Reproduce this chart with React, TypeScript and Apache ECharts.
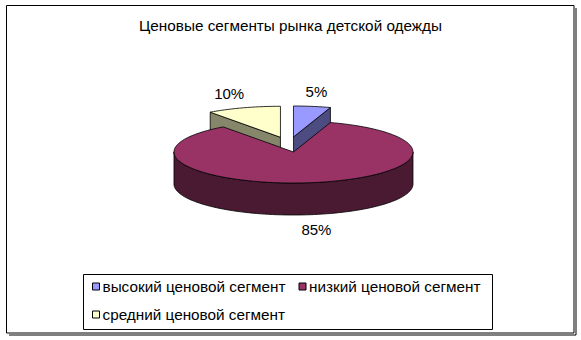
import React, { useEffect, useRef } from "react";
import * as echarts from "echarts";

const TITLE = "Ценовые сегменты рынка детской одежды";
const categories = ["высокий ценовой сегмент", "низкий ценовой сегмент", "средний ценовой сегмент"];
const values = [5, 85, 10];
const pctLabels = ["5%", "85%", "10%"];
const topColors = ["#9999FF", "#993366", "#FFFFCC"];
const sideColors = ["#4C4C80", "#4A1A33", "#86866A"];

// layout (pixels)
const CX = 289.1;
const CY = 144.5;
const RX = 119.5;
const RY = 31;
const DEPTH = 32;
const EXPLODE_X = 28;
const EXPLODE_Y = 7.6;
const FF = "'Liberation Sans', Arial, sans-serif";
const FONT = "15px " + FF;

const rad = (d: number) => (d * Math.PI) / 180;

function arc(ox: number, oy: number, a0: number, a1: number, dy: number) {
  const pts: number[][] = [];
  const n = Math.max(2, Math.ceil(Math.abs(a1 - a0) / 2));
  for (let k = 0; k <= n; k++) {
    const a = a0 + ((a1 - a0) * k) / n;
    pts.push([ox + RX * Math.sin(rad(a)), oy - RY * Math.cos(rad(a)) + dy]);
  }
  return pts;
}

function makeRenderItem(i: number) {
  return function (_params: any, api: any) {
    const total = values.reduce((s, v) => s + v, 0);
    let before = 0;
    for (let k = 0; k < i; k++) before += values[k];
    const v = api.value(0) as number;
    const start = (before / total) * 360;
    const end = start + (v / total) * 360;
    const mid = (start + end) / 2;
    const ox = CX + Math.sin(rad(mid)) * EXPLODE_X;
    const oy = CY - Math.cos(rad(mid)) * EXPLODE_Y;
    const stroke = "#000";
    const lw = 0.8;
    const children: any[] = [];

    const wall = (a: number) => {
      const p = [ox + RX * Math.sin(rad(a)), oy - RY * Math.cos(rad(a))];
      return [
        [ox, oy],
        p,
        [p[0], p[1] + DEPTH],
        [ox, oy + DEPTH],
      ];
    };
    if (Math.sin(rad(start)) < -1e-6) {
      children.push({
        type: "polygon",
        z2: 10,
        shape: { points: wall(start) },
        style: { fill: sideColors[i], stroke, lineWidth: lw },
      });
    }
    if (Math.sin(rad(end)) > 1e-6) {
      children.push({
        type: "polygon",
        z2: 10,
        shape: { points: wall(end) },
        style: { fill: sideColors[i], stroke, lineWidth: lw },
      });
    }
    const s = Math.max(start, 90);
    const e = Math.min(end, 270);
    if (s < e) {
      const pts = arc(ox, oy, s, e, 0).concat(arc(ox, oy, e, s, DEPTH));
      children.push({
        type: "polygon",
        z2: 20,
        shape: { points: pts },
        style: { fill: sideColors[i], stroke, lineWidth: lw },
      });
    }
    children.push({
      type: "polygon",
      z2: 30,
      shape: { points: [[ox, oy]].concat(arc(ox, oy, start, end, 0)) },
      style: { fill: topColors[i], stroke, lineWidth: lw },
    });
    const front = Math.cos(rad(mid)) < 0;
    const ex = ox + RX * Math.sin(rad(mid));
    const ey = oy - RY * Math.cos(rad(mid)) + (front ? DEPTH : 0);
    children.push({
      type: "text",
      z2: 40,
      x: ex + Math.sin(rad(mid)) * 40 - 2,
      y: ey - Math.cos(rad(mid)) * 15,
      style: {
        text: pctLabels[i],
        fill: "#000",
        font: FONT,
        align: "center",
        verticalAlign: "middle",
        textAlign: "center",
        textVerticalAlign: "middle",
      },
    });
    return { type: "group", children };
  };
}

export default function App() {
  const ref = useRef<HTMLDivElement>(null);
  useEffect(() => {
    if (!ref.current) return;
    const chart = echarts.init(ref.current, undefined, { renderer: "svg" });
    chart.setOption({
      animation: false,
      backgroundColor: "#fff",
      title: {
        text: TITLE,
        left: "center",
        top: 13,
        textStyle: {
          fontSize: 15.3,
          fontWeight: "normal",
          fontFamily: FF,
          color: "#000",
        },
      },
      graphic: [
        {
          type: "polyline",
          z: 0,
          shape: { points: [[576, 8], [576, 335], [9, 335]] },
          style: { stroke: "#000", lineWidth: 1, fill: null },
        },
        {
          type: "rect",
          z: 0,
          shape: { x: 6.5, y: 5.5, width: 567.5, height: 327.5 },
          style: { stroke: "#000", lineWidth: 1, fill: "#fff" },
        },
        {
          type: "rect",
          z: 1,
          shape: { x: 83.5, y: 274.5, width: 409, height: 55 },
          style: { stroke: "#000", lineWidth: 1, fill: "#fff" },
        },
      ],
      legend: {
        left: 92,
        top: 279,
        width: 398,
        padding: 0,
        itemWidth: 7,
        itemHeight: 7,
        itemGap: 13,
        icon: "rect",
        itemStyle: { borderColor: "#000", borderWidth: 1 },
        textStyle: {
          fontSize: 15.3,
          lineHeight: 12,
          fontFamily: FF,
          color: "#000",
          padding: [0, 0, 0, -2],
        },
        data: categories,
      },
      series: categories.map((name, i) => ({
        type: "custom",
        name,
        coordinateSystem: "none",
        itemStyle: { color: topColors[i] },
        renderItem: makeRenderItem(i),
        data: [values[i]],
      })),
    });
    return () => chart.dispose();
  }, []);
  return (
    <div
      ref={ref}
      style={{ position: "absolute", left: 0, top: 0, width: 581, height: 340 }}
    />
  );
}
